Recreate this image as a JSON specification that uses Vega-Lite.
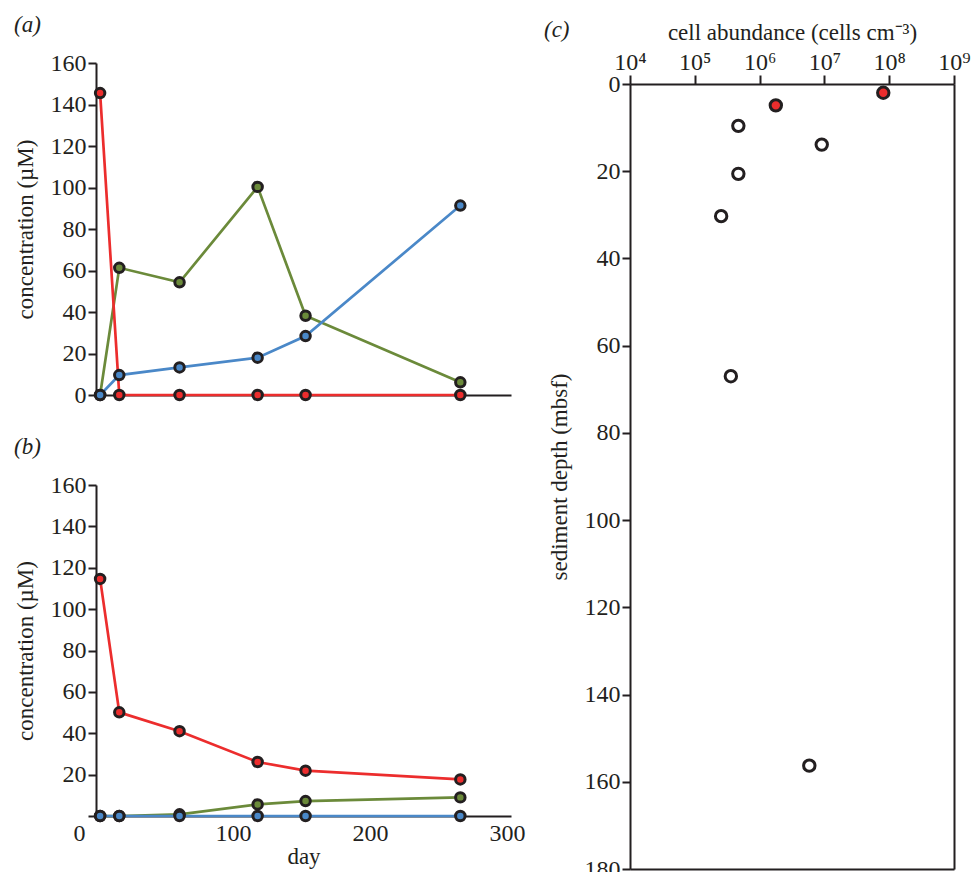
{
  "$schema": "https://vega.github.io/schema/vega-lite/v6.json",
  "padding": {"left": 14, "top": 14, "right": 0, "bottom": 0},
  "background": "white",
  "config": {
    "font": "Liberation Serif",
    "view": {"stroke": null},
    "axis": {
      "labelFont": "Liberation Serif", "titleFont": "Liberation Serif",
      "labelFontSize": 24, "titleFontSize": 23, "titleFontWeight": "normal",
      "labelColor": "#231f20", "titleColor": "#231f20",
      "domainColor": "#231f20", "tickColor": "#231f20",
      "domainWidth": 2, "tickWidth": 2, "grid": false,
      "labelFlush": false, "labelOverlap": false
    },
    "style": {
      "guide-label": {"font": "Liberation Serif"},
      "guide-title": {"font": "Liberation Serif"}
    },
    "title": {"font": "Liberation Serif", "fontSize": 23, "fontWeight": "normal", "color": "#231f20", "anchor": "start", "frame": "bounds"}
  },
  "datasets": {
    "conc": [
      {"panel": "a", "series": "green", "day": 3, "conc": 0},
      {"panel": "a", "series": "green", "day": 17, "conc": 61.3},
      {"panel": "a", "series": "green", "day": 61, "conc": 54.3},
      {"panel": "a", "series": "green", "day": 118, "conc": 100.3},
      {"panel": "a", "series": "green", "day": 153, "conc": 38.2},
      {"panel": "a", "series": "green", "day": 266, "conc": 6.1},
      {"panel": "a", "series": "red", "day": 3, "conc": 145.5},
      {"panel": "a", "series": "red", "day": 17, "conc": 0},
      {"panel": "a", "series": "red", "day": 61, "conc": 0},
      {"panel": "a", "series": "red", "day": 118, "conc": 0},
      {"panel": "a", "series": "red", "day": 153, "conc": 0},
      {"panel": "a", "series": "red", "day": 266, "conc": 0},
      {"panel": "a", "series": "blue", "day": 3, "conc": 0},
      {"panel": "a", "series": "blue", "day": 17, "conc": 9.6},
      {"panel": "a", "series": "blue", "day": 61, "conc": 13.3},
      {"panel": "a", "series": "blue", "day": 118, "conc": 18},
      {"panel": "a", "series": "blue", "day": 153, "conc": 28.4},
      {"panel": "a", "series": "blue", "day": 266, "conc": 91.3},
      {"panel": "b", "series": "green", "day": 3, "conc": 0},
      {"panel": "b", "series": "green", "day": 17, "conc": 0},
      {"panel": "b", "series": "green", "day": 61, "conc": 0.8},
      {"panel": "b", "series": "green", "day": 118, "conc": 5.6},
      {"panel": "b", "series": "green", "day": 153, "conc": 7.2},
      {"panel": "b", "series": "green", "day": 266, "conc": 9.0},
      {"panel": "b", "series": "red", "day": 3, "conc": 114.6},
      {"panel": "b", "series": "red", "day": 17, "conc": 50.1},
      {"panel": "b", "series": "red", "day": 61, "conc": 41.0},
      {"panel": "b", "series": "red", "day": 118, "conc": 26.1},
      {"panel": "b", "series": "red", "day": 153, "conc": 21.9},
      {"panel": "b", "series": "red", "day": 266, "conc": 17.7},
      {"panel": "b", "series": "blue", "day": 3, "conc": 0},
      {"panel": "b", "series": "blue", "day": 17, "conc": 0},
      {"panel": "b", "series": "blue", "day": 61, "conc": 0},
      {"panel": "b", "series": "blue", "day": 118, "conc": 0},
      {"panel": "b", "series": "blue", "day": 153, "conc": 0},
      {"panel": "b", "series": "blue", "day": 266, "conc": 0}
    ],
    "cells": [
      {"cells": 81000000, "depth": 2, "type": "red"},
      {"cells": 1780000, "depth": 4.9, "type": "red"},
      {"cells": 470000, "depth": 9.6, "type": "open"},
      {"cells": 9100000, "depth": 13.9, "type": "open"},
      {"cells": 470000, "depth": 20.6, "type": "open"},
      {"cells": 255000, "depth": 30.3, "type": "open"},
      {"cells": 360000, "depth": 67, "type": "open"},
      {"cells": 5850000, "depth": 156.3, "type": "open"}
    ]
  },
  "resolve": {"scale": {"fill": "independent", "color": "independent"}},
  "columns": 2,
  "align": "none",
  "spacing": 19,
  "concat": [
    {
      "spacing": 29,
      "vconcat": [
        {
          "title": {"text": "(a)", "fontStyle": "italic", "offset": 14},
          "width": 415, "height": 332,
          "data": {"name": "conc"},
          "transform": [{"filter": "datum.panel == 'a'"}],
          "encoding": {
            "x": {"field": "day", "type": "quantitative", "scale": {"domain": [0, 303], "nice": false}, "axis": {"labels": false, "ticks": false, "title": null}},
            "y": {"field": "conc", "type": "quantitative", "scale": {"domain": [0, 160], "nice": false}, "axis": {"values": [0, 20, 40, 60, 80, 100, 120, 140, 160], "tickSize": 8, "labelPadding": 2, "labelFont": "Liberation Serif", "titleFont": "Liberation Serif", "title": "concentration (µM)", "titlePadding": 13}}
          },
          "layer": [
            {"mark": {"type": "line", "strokeWidth": 2.7},
             "encoding": {"color": {"field": "series", "type": "nominal", "scale": {"domain": ["green", "red", "blue"], "range": ["#6b8a3a", "#ec2d2d", "#4a88c8"]}, "legend": null}}},
            {"mark": {"type": "point", "filled": true, "size": 90, "stroke": "#231f20", "strokeWidth": 3, "opacity": 1},
             "encoding": {"fill": {"field": "series", "type": "nominal", "scale": {"domain": ["green", "red", "blue"], "range": ["#6b8a3a", "#ec2d2d", "#4a88c8"]}, "legend": null}}}
          ]
        },
        {
          "title": {"text": "(b)", "fontStyle": "italic", "offset": 14},
          "width": 415, "height": 331,
          "data": {"name": "conc"},
          "transform": [{"filter": "datum.panel == 'b'"}],
          "encoding": {
            "x": {"field": "day", "type": "quantitative", "scale": {"domain": [0, 303], "nice": false}, "axis": {"values": [0, 100, 200, 300], "ticks": false, "labelPadding": 5, "labelFont": "Liberation Serif", "titleFont": "Liberation Serif", "labelOffset": {"condition": {"test": "datum.value == 0", "value": -17}, "value": 0}, "title": "day", "titlePadding": 0}},
            "y": {"field": "conc", "type": "quantitative", "scale": {"domain": [0, 160], "nice": false}, "axis": {"values": [0, 20, 40, 60, 80, 100, 120, 140, 160], "labelExpr": "datum.value == 0 ? '' : datum.label", "tickSize": 8, "labelPadding": 2, "labelFont": "Liberation Serif", "titleFont": "Liberation Serif", "title": "concentration (µM)", "titlePadding": 13}}
          },
          "layer": [
            {"mark": {"type": "line", "strokeWidth": 2.7},
             "encoding": {"color": {"field": "series", "type": "nominal", "scale": {"domain": ["green", "red", "blue"], "range": ["#6b8a3a", "#ec2d2d", "#4a88c8"]}, "legend": null}}},
            {"mark": {"type": "point", "filled": true, "size": 90, "stroke": "#231f20", "strokeWidth": 3, "opacity": 1},
             "encoding": {"fill": {"field": "series", "type": "nominal", "scale": {"domain": ["green", "red", "blue"], "range": ["#6b8a3a", "#ec2d2d", "#4a88c8"]}, "legend": null}}}
          ]
        }
      ]
    },
    {
      "title": {"text": "(c)", "fontStyle": "italic", "offset": -21, "dx": -4},
      "width": 324, "height": 806,
      "data": {"name": "cells"},
      "resolve": {"axis": {"x": "independent", "y": "independent"}},
      "layer": [
        {
          "mark": {"type": "point", "filled": true, "size": 130, "stroke": "#231f20", "strokeWidth": 3, "opacity": 1},
          "encoding": {
            "x": {"field": "cells", "type": "quantitative", "scale": {"type": "log", "domain": [10000, 1000000000]}, "axis": {"orient": "top", "offset": -21, "values": [10000, 100000, 1000000, 10000000, 100000000, 1000000000], "labelExpr": "'10' + ['⁰','¹','²','³','⁴','⁵','⁶','⁷','⁸','⁹'][round(log(datum.value)/LN10)]", "tickSize": 9, "labelPadding": 1, "labelFont": "Liberation Serif", "titleFont": "Liberation Serif", "title": "cell abundance (cells cm⁻³)", "titlePadding": 6}},
            "y": {"field": "depth", "type": "quantitative", "scale": {"domain": [0, 180], "range": [21, 806], "nice": false}, "axis": {"values": [0, 20, 40, 60, 80, 100, 120, 140, 160, 180], "tickSize": 8, "labelPadding": 2, "labelFont": "Liberation Serif", "titleFont": "Liberation Serif", "title": "sediment depth (mbsf)", "titlePadding": 13}},
            "fill": {"field": "type", "type": "nominal", "scale": {"domain": ["red", "open"], "range": ["#ec2d2d", "#ffffff"]}, "legend": null}
          }
        },
        {
          "mark": {"type": "point", "opacity": 0},
          "encoding": {
            "x": {"field": "cells", "type": "quantitative", "axis": {"orient": "bottom", "labels": false, "ticks": false, "title": null}},
            "y": {"field": "depth", "type": "quantitative", "axis": {"orient": "right", "labels": false, "ticks": false, "title": null}}
          }
        }
      ]
    }
  ]
}
